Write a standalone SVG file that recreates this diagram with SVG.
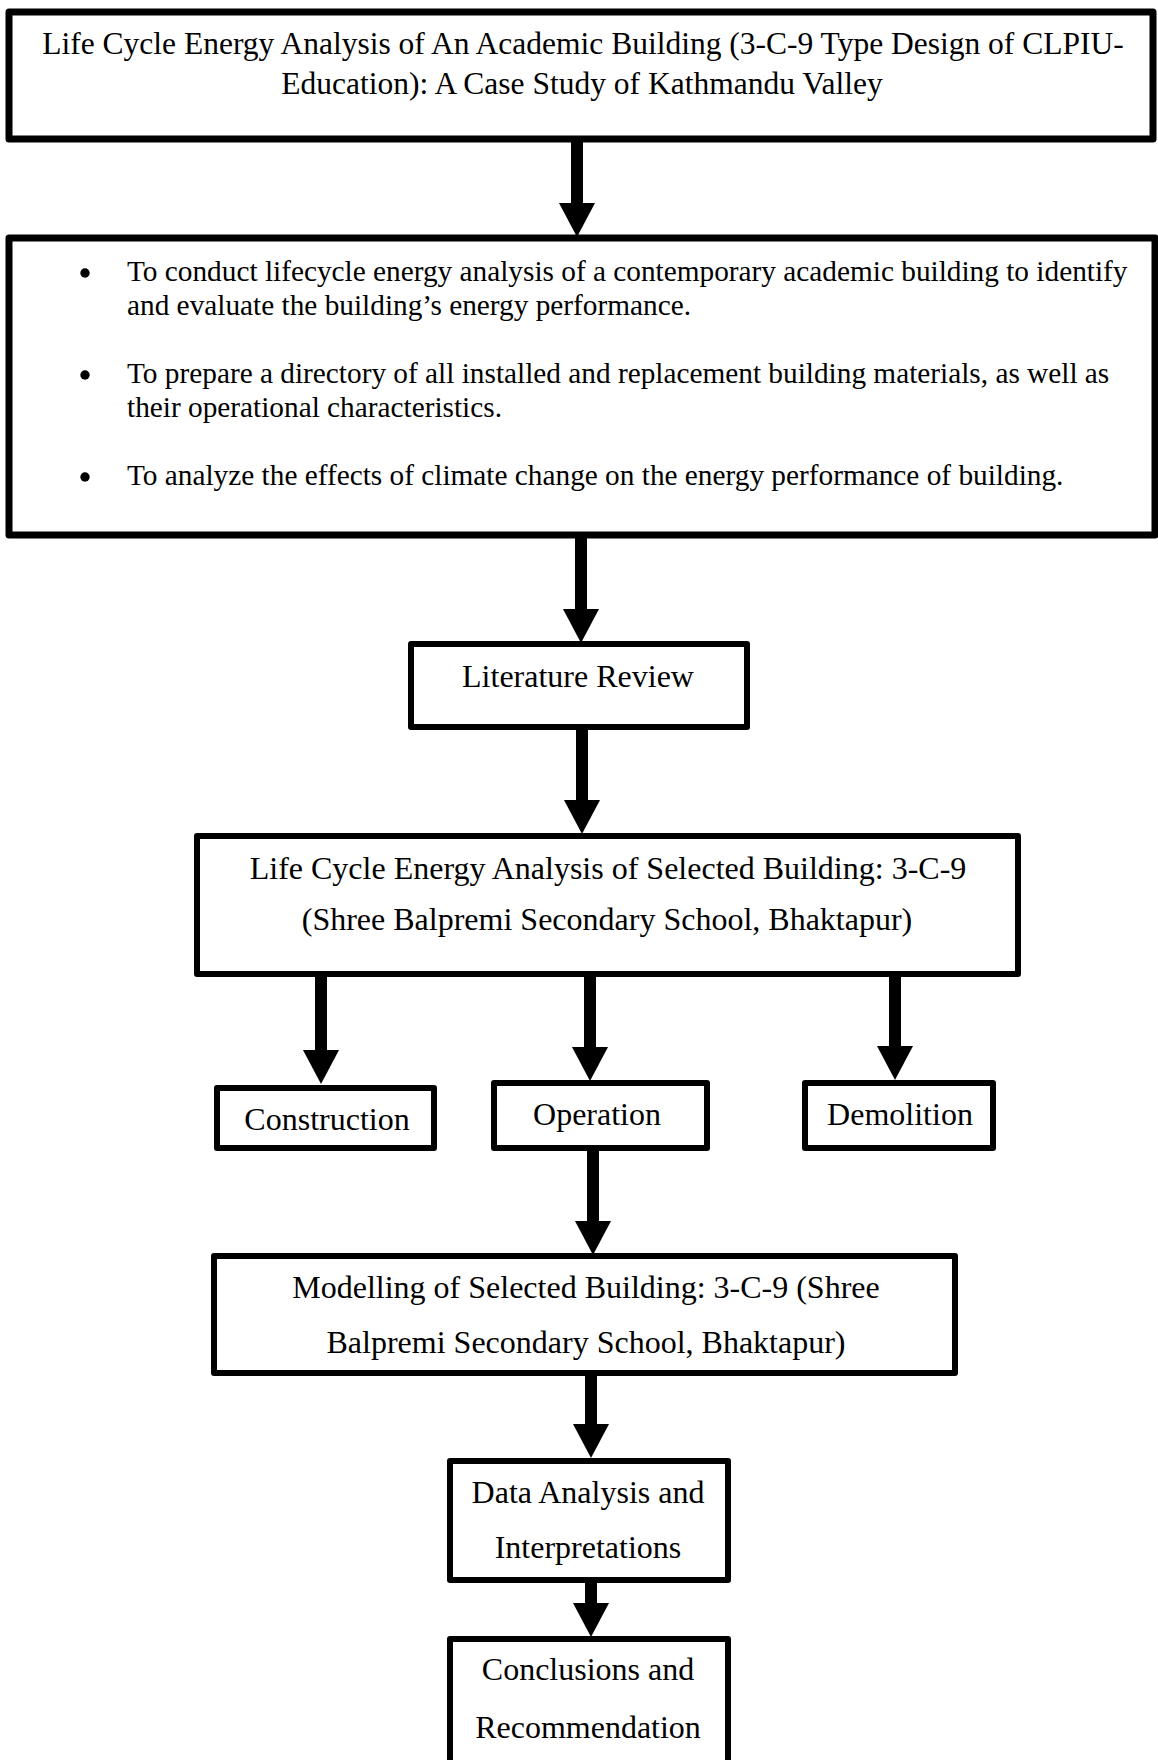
<svg xmlns="http://www.w3.org/2000/svg" width="1158" height="1760" viewBox="0 0 1158 1760">
  <style>
    .box { fill: #ffffff; stroke: #000000; stroke-width: 6; stroke-linejoin: round; }
    .wide { stroke-width: 7; }
    .lbl { font-family: "Liberation Serif", "Times New Roman", serif; font-size: 32px; fill: #000000; text-anchor: middle; }
    .ttl { font-family: "Liberation Serif", "Times New Roman", serif; font-size: 31.5px; fill: #000000; text-anchor: middle; }
    .obj { font-family: "Liberation Serif", "Times New Roman", serif; font-size: 29.3px; fill: #000000; }
    .dot { fill: #000000; }
    .link { stroke: #000000; stroke-width: 12; fill: none; marker-end: url(#head); }
  </style>
  <defs>
    <marker id="head" viewBox="0 0 34 36" refX="0" refY="18" markerWidth="34" markerHeight="36" markerUnits="userSpaceOnUse" orient="auto">
      <path d="M0,0 L34,18 L0,36 Z" fill="#000000"/>
    </marker>
  </defs>
  <rect width="1158" height="1760" fill="#ffffff"/>

  <!-- connectors -->
  <g id="connectors">
    <line class="link" x1="577" y1="139" x2="577" y2="203"/>
    <line class="link" x1="581" y1="535" x2="581" y2="609"/>
    <line class="link" x1="582" y1="727" x2="582" y2="800"/>
    <line class="link" x1="321" y1="974" x2="321" y2="1050"/>
    <line class="link" x1="590" y1="974" x2="590" y2="1047"/>
    <line class="link" x1="895" y1="974" x2="895" y2="1046"/>
    <line class="link" x1="593" y1="1148" x2="593" y2="1221"/>
    <line class="link" x1="591" y1="1373" x2="591" y2="1424"/>
    <line class="link" x1="591" y1="1580" x2="591" y2="1603"/>
  </g>

  <!-- study title -->
  <g id="title">
    <rect class="box wide" x="9" y="12" width="1144" height="127"/>
    <text class="ttl" x="583" y="54">Life Cycle Energy Analysis of An Academic Building (3-C-9 Type Design of CLPIU-</text>
    <text class="ttl" x="582" y="94">Education): A Case Study of Kathmandu Valley</text>
  </g>

  <!-- objectives -->
  <g id="objectives">
    <rect class="box wide" x="9" y="238" width="1146" height="297"/>
    <circle class="dot" cx="85" cy="273" r="4.7"/>
    <text class="obj" x="127" y="281">To conduct lifecycle energy analysis of a contemporary academic building to identify</text>
    <text class="obj" x="127" y="315">and evaluate the building’s energy performance.</text>
    <circle class="dot" cx="85" cy="375" r="4.7"/>
    <text class="obj" x="127" y="383">To prepare a directory of all installed and replacement building materials, as well as</text>
    <text class="obj" x="127" y="417">their operational characteristics.</text>
    <circle class="dot" cx="85" cy="477" r="4.7"/>
    <text class="obj" x="127" y="485">To analyze the effects of climate change on the energy performance of building.</text>
  </g>

  <g id="literature-review">
    <rect class="box" x="411" y="644" width="336" height="83"/>
    <text class="lbl" x="578" y="687">Literature Review</text>
  </g>

  <g id="lcea">
    <rect class="box" x="197" y="836" width="821" height="138"/>
    <text class="lbl" x="608" y="879">Life Cycle Energy Analysis of Selected Building: 3-C-9</text>
    <text class="lbl" x="607" y="930">(Shree Balpremi Secondary School, Bhaktapur)</text>
  </g>

  <g id="construction">
    <rect class="box" x="217" y="1088" width="217" height="60"/>
    <text class="lbl" x="327" y="1130">Construction</text>
  </g>

  <g id="operation">
    <rect class="box" x="494" y="1083" width="213" height="65"/>
    <text class="lbl" x="597" y="1125">Operation</text>
  </g>

  <g id="demolition">
    <rect class="box" x="805" y="1083" width="188" height="65"/>
    <text class="lbl" x="900" y="1125">Demolition</text>
  </g>

  <g id="modelling">
    <rect class="box" x="214" y="1256" width="741" height="117"/>
    <text class="lbl" x="586" y="1298">Modelling of Selected Building: 3-C-9 (Shree</text>
    <text class="lbl" x="586" y="1353">Balpremi Secondary School, Bhaktapur)</text>
  </g>

  <g id="data-analysis">
    <rect class="box" x="450" y="1461" width="278" height="119"/>
    <text class="lbl" x="588" y="1503">Data Analysis and</text>
    <text class="lbl" x="588" y="1558">Interpretations</text>
  </g>

  <g id="conclusions">
    <rect class="box" x="450" y="1639" width="278" height="140"/>
    <text class="lbl" x="588" y="1680">Conclusions and</text>
    <text class="lbl" x="588" y="1738">Recommendation</text>
  </g>
</svg>
